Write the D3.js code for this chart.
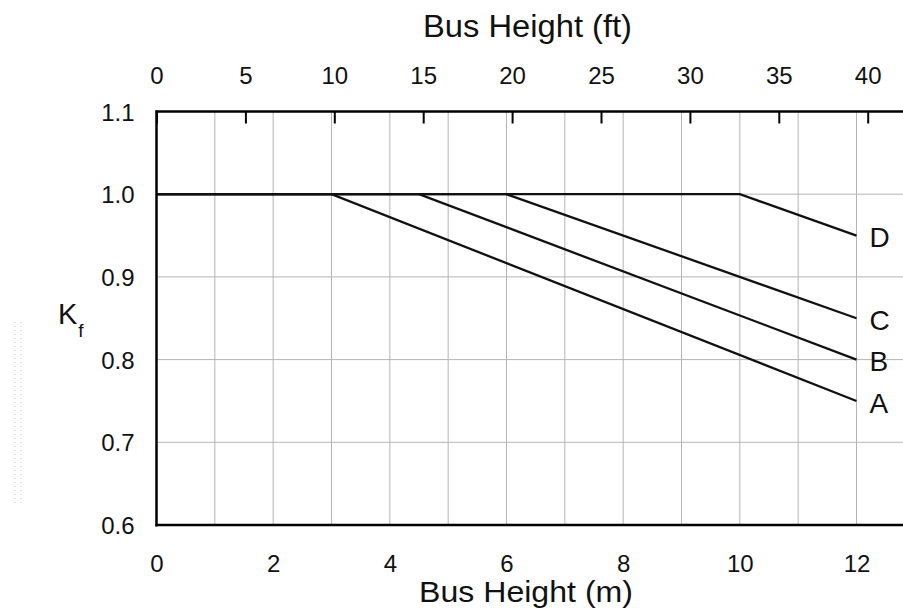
<!DOCTYPE html>
<html>
<head>
<meta charset="utf-8">
<script src="https://cdn.jsdelivr.net/npm/d3@7"></script>
<style>
  body { margin: 0; background: #fff; }
  svg { display: block; font-family: "Liberation Sans", Arial, sans-serif; }
</style>
</head>
<body>
<svg id="chart" width="903" height="611"></svg>
<script>
// curve data, bus height in metres vs Kf
let curveNames = ["A", "B", "C", "D"];
let curveA = [[0, 1.0], [3, 1.0], [12, 0.75]];
let curveB = [[0, 1.0], [4.5, 1.0], [12, 0.80]];
let curveC = [[0, 1.0], [6, 1.0], [12, 0.85]];
let curveD = [[0, 1.0], [10, 1.0], [12, 0.95]];

// tick labels
let mTicks = [0, 2, 4, 6, 8, 10, 12];
let ftTicks = [0, 5, 10, 15, 20, 25, 30, 35, 40];
let kfTicks = [0.6, 0.7, 0.8, 0.9, 1.0, 1.1];
let mGrid = d3.range(0, 14, 1);

let svg = d3.select("#chart");

let pLeft = 156.5, pRight = 856.5, pTop = 111.5, pBottom = 525;

let x = d3.scaleLinear().domain([0, 12]).range([pLeft, pRight]);
let xFt = d3.scaleLinear().domain([0, 12 / 0.3048]).range([pLeft, pRight]);
let y = d3.scaleLinear().domain([0.6, 1.1]).range([pBottom, pTop]);

// grid
let grid = svg.append("g").attr("stroke", "#b4b4b4").attr("stroke-width", 1);
grid.selectAll("line.v")
  .data(mGrid)
  .enter().append("line")
  .attr("class", "v")
  .attr("x1", d => x(d)).attr("x2", d => x(d))
  .attr("y1", pTop).attr("y2", pBottom);
grid.selectAll("line.h")
  .data(kfTicks)
  .enter().append("line")
  .attr("class", "h")
  .attr("x1", pLeft).attr("x2", 903)
  .attr("y1", d => y(d)).attr("y2", d => y(d));

// curves
let line = d3.line().x(d => x(d[0])).y(d => y(d[1]));
let curves = [curveA, curveB, curveC, curveD];
svg.append("g").selectAll("path")
  .data(curves)
  .enter().append("path")
  .attr("d", line)
  .attr("fill", "none")
  .attr("stroke", "#111")
  .attr("stroke-width", 2.3);

// curve labels
svg.append("g").selectAll("text")
  .data(curves)
  .enter().append("text")
  .attr("x", d => x(d[d.length - 1][0]) + 13)
  .attr("y", d => y(d[d.length - 1][1]) + 2)
  .attr("dy", "0.35em")
  .attr("font-size", 28)
  .attr("fill", "#111")
  .text((d, i) => curveNames[i]);

// frame: left, bottom, top
svg.append("line")
  .attr("x1", pLeft).attr("x2", pLeft).attr("y1", pTop - 1).attr("y2", pBottom + 1.5)
  .attr("stroke", "#000").attr("stroke-width", 2.5);
svg.append("line")
  .attr("x1", pLeft - 1).attr("x2", 903).attr("y1", pBottom).attr("y2", pBottom)
  .attr("stroke", "#000").attr("stroke-width", 2.5);
svg.append("line")
  .attr("x1", pLeft - 1).attr("x2", 903).attr("y1", pTop).attr("y2", pTop)
  .attr("stroke", "#000").attr("stroke-width", 2.3);

// axes
let axisBottom = d3.axisBottom(x).tickValues(mTicks).tickSize(0).tickPadding(30)
  .tickFormat(d3.format("d"));
let gb = svg.append("g").attr("transform", `translate(0,${pBottom})`).call(axisBottom);

let axisTop = d3.axisTop(xFt).tickValues(ftTicks).tickSize(-12).tickPadding(28)
  .tickFormat(d3.format("d"));
let gt = svg.append("g").attr("transform", `translate(0,${pTop})`).call(axisTop);
gt.selectAll(".tick line").attr("stroke", "#000").attr("stroke-width", 2);

let axisLeft = d3.axisLeft(y).tickValues(kfTicks).tickSize(0).tickPadding(22)
  .tickFormat(d3.format(".1f"));
let gl = svg.append("g").attr("transform", `translate(${pLeft},0)`).call(axisLeft);

[gb, gt, gl].forEach(g => {
  g.select(".domain").remove();
  g.selectAll("text")
    .attr("font-family", "Liberation Sans, Arial, sans-serif")
    .attr("font-size", 24)
    .attr("fill", "#111");
});
gl.selectAll("text").attr("dy", "0.36em");

// axis titles
svg.append("text")
  .attr("x", 423).attr("y", 37)
  .attr("font-size", 31)
  .attr("fill", "#111")
  .attr("textLength", 209)
  .attr("lengthAdjust", "spacingAndGlyphs")
  .text("Bus Height (ft)");

svg.append("text")
  .attr("x", 419).attr("y", 602)
  .attr("font-size", 30)
  .attr("fill", "#111")
  .attr("textLength", 214)
  .attr("lengthAdjust", "spacingAndGlyphs")
  .text("Bus Height (m)");

let kf = svg.append("text")
  .attr("x", 58).attr("y", 324)
  .attr("font-size", 29)
  .attr("fill", "#111");
kf.append("tspan").text("K");
kf.append("tspan").attr("font-size", 19).attr("dy", 13).attr("dx", 1).text("f");

// faint scan marks at far left
svg.append("g").selectAll("line")
  .data([15, 21])
  .enter().append("line")
  .attr("x1", d => d).attr("x2", d => d)
  .attr("y1", 322).attr("y2", 503)
  .attr("stroke", "#c8c8c8")
  .attr("stroke-width", 1)
  .attr("stroke-dasharray", "1,3");
</script>
</body>
</html>
